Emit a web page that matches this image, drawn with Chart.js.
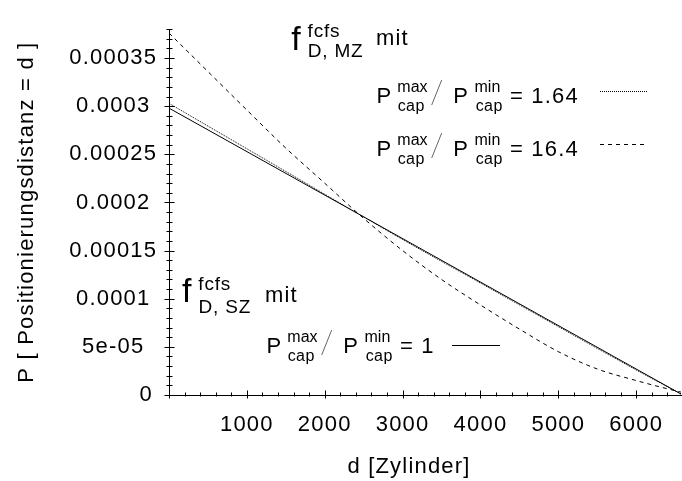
<!DOCTYPE html>
<html><head><meta charset="utf-8">
<script src="https://cdn.jsdelivr.net/npm/chart.js@4"></script>
<style>html,body{margin:0;padding:0;background:#fff;}canvas{display:block;}</style>
</head><body>
<canvas id="c" width="682" height="481"></canvas>
<script>
// ---- data ----
const solidD  = [0, 6575];
const solidP  = [2.98e-4, 1e-6];
const dottedD = [0, 1000, 2000, 2450, 3000, 4000, 5000, 6000, 6575];
const dottedP = [3.03e-4, 2.558e-4, 2.086e-4, 1.873e-4, 1.615e-4, 1.163e-4, 7.1e-5, 2.6e-5, 1e-6];
const dashedD = [0, 500, 1000, 1500, 2000, 2450, 3000, 3500, 4000, 4500, 5000, 5500, 6000, 6300, 6575];
const dashedP = [3.76e-4, 3.36e-4, 2.96e-4, 2.565e-4, 2.2e-4, 1.87e-4, 1.5e-4, 1.2e-4, 9.35e-5, 6.85e-5, 4.5e-5, 2.7e-5, 1.5e-5, 8.5e-6, 3e-6];
const xTicks = [1000, 2000, 3000, 4000, 5000, 6000];
const yTicks = [0, 5e-5, 1e-4, 1.5e-4, 2e-4, 2.5e-4, 3e-4, 3.5e-4];
const yTickLabels = ['0', '5e-05', '0.0001', '0.00015', '0.0002', '0.00025', '0.0003', '0.00035'];
const xTitle = 'd [Zylinder]';
const yTitle = 'P [ Positionierungsdistanz = d ]';
const ratioLabels = ['1.64', '16.4', '1'];
const xMin = 0, xMax = 6575, yMin = 0, yMax = 3.8e-4;
const xMinorStep = 200, yMinorStep = 1e-5;

const FAM = '"Liberation Sans", Arial, Helvetica, sans-serif';
const pts = (xs, ys) => xs.map((x, i) => ({x: x, y: ys[i]}));

const spacingPlugin = {
  id: 'spacing',
  beforeDraw(chart) { chart.ctx.letterSpacing = '1.2px'; }
};

const decoPlugin = {
  id: 'deco',
  afterDraw(chart) {
    const ctx = chart.ctx, xs = chart.scales.x, ys = chart.scales.y;
    const area = chart.chartArea;
    ctx.save();
    ctx.strokeStyle = '#000'; ctx.lineWidth = 1;
    // crossing tick marks on both axes
    const bx = Math.round(area.bottom) + 0.5 - 1;
    const nx = Math.round((xMax - xMin) / xMinorStep);
    for (let i = 0; i <= nx; i++) {
      const v = xMin + i * xMinorStep;
      const px = Math.round(xs.getPixelForValue(v)) + 0.5;
      const len = (v % 1000 === 0) ? 4 : 2;
      ctx.beginPath(); ctx.moveTo(px, bx - len); ctx.lineTo(px, bx + len); ctx.stroke();
    }
    const lx = Math.round(area.left) + 0.5;
    const ny = Math.round((yMax - yMin) / yMinorStep);
    for (let i = 0; i <= ny; i++) {
      const px = Math.round(ys.getPixelForValue(yMin + i * yMinorStep)) + 0.5;
      const len = (i % 5 === 0) ? 5 : 3;
      ctx.beginPath(); ctx.moveTo(lx - len, px); ctx.lineTo(lx + len, px); ctx.stroke();
    }
    // texts
    ctx.fillStyle = '#000';
    ctx.textBaseline = 'alphabetic';
    const t = (s, x, y, size, sp, a) => {
      ctx.font = size + 'px ' + FAM; ctx.letterSpacing = sp + 'px';
      ctx.textAlign = a || 'left'; ctx.fillText(s, x, y);
    };
    t(xTitle, 409, 473, 22, 1.2, 'center');

    const fLabel = (x, base, supB, subB, sub, mitX, mitB) => {
      t('f', x, base, 34, 0);
      t('fcfs', x + 16.3, supB, 19, 0.8);
      t(sub, x + 16.5, subB, 19, 0.8);
      t('mit', mitX, mitB, 22, 1.2);
    };
    fLabel(291.3, 50, 37, 56.7, 'D, MZ', 376, 45);
    fLabel(182, 302, 290, 313, 'D, SZ', 265, 301.5);

    const ratio = (x, base, val, ds, l0, l1, lineY) => {
      t('P', x - 1.7, base, 22, 1.2);
      t('max', x + 19, base - 11, 16, 0);
      t('cap', x + 19.4, base + 8, 16, 0.4);
      ctx.save(); ctx.strokeStyle = '#666'; ctx.lineWidth = 1; ctx.setLineDash([]);
      ctx.beginPath(); ctx.moveTo(x + 53.4, base + 2); ctx.lineTo(x + 63.4, base - 23); ctx.stroke();
      ctx.restore();
      t('P', x + 76.7 - 1.7, base, 22, 1.2);
      t('min', x + 96.2, base - 11, 16, 0);
      t('cap', x + 97.4, base + 8, 16, 0.4);
      t('= ' + val, x + 131.6, base, 22, 1.2);
      ctx.save(); ctx.strokeStyle = ds.borderColor; ctx.lineWidth = ds.borderWidth;
      ctx.setLineDash(ds.borderDash || []);
      ctx.beginPath(); ctx.moveTo(l0, lineY); ctx.lineTo(l1, lineY); ctx.stroke();
      ctx.restore();
    };
    const d = chart.data.datasets;
    ratio(378.3, 103, ratioLabels[0], d[1], 600, 647, 91.5);
    ratio(378.3, 156, ratioLabels[1], d[2], 600, 645, 144.5);
    ratio(268.3, 353, ratioLabels[2], d[0], 452, 500, 345.5);
    ctx.restore();
  }
};

new Chart(document.getElementById('c'), {
  type: 'scatter',
  data: {
    datasets: [
      {label: '1', data: pts(solidD, solidP), showLine: true, borderColor: '#000', borderWidth: 1, pointRadius: 0, fill: false},
      {label: '1.64', data: pts(dottedD, dottedP), showLine: true, borderColor: '#000', borderWidth: 1, borderDash: [1, 1], pointRadius: 0, fill: false, cubicInterpolationMode: 'monotone'},
      {label: '16.4', data: pts(dashedD, dashedP), showLine: true, borderColor: '#000', borderWidth: 1, borderDash: [4, 4], pointRadius: 0, fill: false, cubicInterpolationMode: 'monotone'}
    ]
  },
  options: {
    responsive: false,
    animation: false,
    devicePixelRatio: 1,
    layout: {padding: {top: 13, right: 1, left: 0, bottom: 0}},
    plugins: {legend: {display: false}, tooltip: {enabled: false}},
    scales: {
      x: {
        type: 'linear', min: xMin, max: xMax,
        grid: {display: false, drawTicks: false},
        border: {display: true, color: '#000', width: 1},
        afterBuildTicks: (s) => { s.ticks = xTicks.map(v => ({value: v})); },
        afterFit: (s) => { s.height = 86; },
        ticks: {color: '#000', padding: 17, maxRotation: 0, autoSkip: false, font: {family: FAM, size: 22},
          callback: (v) => String(v)},
        title: {display: false}
      },
      y: {
        type: 'linear', min: yMin, max: yMax,
        grid: {display: false, drawTicks: false},
        border: {display: true, color: '#000', width: 1},
        afterBuildTicks: (s) => { s.ticks = yTicks.map(v => ({value: v})); },
        afterFit: (s) => { s.width = 169; },
        ticks: {color: '#000', padding: 16, crossAlign: 'center', autoSkip: false, font: {family: FAM, size: 22},
          callback: (v) => {
            const i = yTicks.findIndex(t => Math.abs(t - v) < 1e-9);
            if (i < 0) return '';
            return i === 0 ? '         ' + yTickLabels[i] : yTickLabels[i];
          }},
        title: {display: true, text: yTitle, color: '#000', font: {family: FAM, size: 22}, padding: {top: 14, bottom: 0}}
      }
    }
  },
  plugins: [spacingPlugin, decoPlugin]
});
</script>
</body></html>
